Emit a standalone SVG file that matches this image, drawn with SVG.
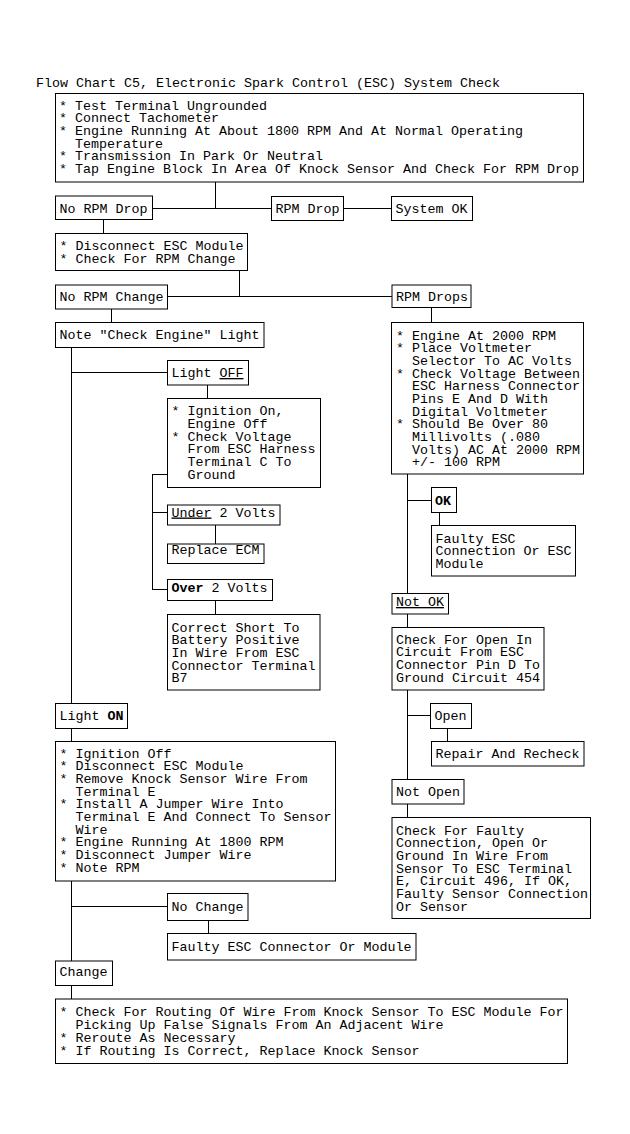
<svg xmlns="http://www.w3.org/2000/svg" width="630" height="1134" viewBox="0 0 630 1134">
<style>
rect{fill:#fff;stroke:#000;stroke-width:1}
line,polyline{stroke:#000;stroke-width:1;fill:none}
text{font-family:"Liberation Mono","DejaVu Sans Mono",monospace;font-size:13.33px;fill:#000}
.b{font-weight:bold}
.u{text-decoration:underline}
</style>
<rect x="0" y="0" width="630" height="1134" style="stroke:none;fill:#fff"/>
<text x="36" y="86.5">Flow Chart C5, Electronic Spark Control (ESC) System Check</text>
<g id="connectors" shape-rendering="crispEdges">
<line x1="215.5" y1="182" x2="215.5" y2="208.5"/>
<line x1="152.5" y1="208.5" x2="271.5" y2="208.5"/>
<line x1="343.5" y1="208.5" x2="391.5" y2="208.5"/>
<line x1="103.5" y1="220" x2="103.5" y2="233.5"/>
<line x1="239.5" y1="270.5" x2="239.5" y2="296.5"/>
<line x1="167.5" y1="296.5" x2="392" y2="296.5"/>
<line x1="111.5" y1="309" x2="111.5" y2="322.5"/>
<line x1="431.5" y1="307.5" x2="431.5" y2="322.5"/>
<line x1="71.5" y1="347.5" x2="71.5" y2="703.5"/>
<line x1="71.5" y1="372.5" x2="167.5" y2="372.5"/>
<line x1="207.5" y1="385" x2="207.5" y2="398.5"/>
<polyline points="167.5,474.5 152.5,474.5 152.5,589.5 167.5,589.5"/>
<line x1="152.5" y1="512.5" x2="167.5" y2="512.5"/>
<line x1="215.5" y1="525" x2="215.5" y2="544"/>
<line x1="215.5" y1="600.5" x2="215.5" y2="614.5"/>
<line x1="71.5" y1="728.5" x2="71.5" y2="741.5"/>
<line x1="71.5" y1="881" x2="71.5" y2="961"/>
<line x1="71.5" y1="906.5" x2="167.5" y2="906.5"/>
<line x1="208.5" y1="920.5" x2="208.5" y2="933.5"/>
<line x1="71.5" y1="985.5" x2="71.5" y2="999"/>
<line x1="407.5" y1="474" x2="407.5" y2="593.5"/>
<line x1="407.5" y1="500.5" x2="431.5" y2="500.5"/>
<line x1="439.5" y1="512.5" x2="439.5" y2="525.5"/>
<line x1="407.5" y1="614" x2="407.5" y2="627.5"/>
<line x1="407.5" y1="690" x2="407.5" y2="779.5"/>
<line x1="407.5" y1="715.5" x2="430.5" y2="715.5"/>
<line x1="447.5" y1="728.5" x2="447.5" y2="741.5"/>
<line x1="407.5" y1="804" x2="407.5" y2="817.5"/>
</g>
<g id="n-start">
<rect x="55.5" y="93.5" width="528" height="88.5"/>
<text y="109.5"><tspan x="59">* Test Terminal Ungrounded</tspan><tspan x="59" dy="12.67">* Connect Tachometer</tspan><tspan x="59" dy="12.67">* Engine Running At About 1800 RPM And At Normal Operating</tspan><tspan x="75" dy="12.67">Temperature</tspan><tspan x="59" dy="12.67">* Transmission In Park Or Neutral</tspan><tspan x="59" dy="12.67">* Tap Engine Block In Area Of Knock Sensor And Check For RPM Drop</tspan></text>
</g>
<g id="n-no-rpm-drop">
<rect x="55.5" y="196" width="97" height="23.5"/>
<text x="59.5" y="212.5">No RPM Drop</text>
</g>
<g id="n-rpm-drop">
<rect x="271.5" y="196.5" width="72" height="24"/>
<text x="275.5" y="213">RPM Drop</text>
</g>
<g id="n-system-ok">
<rect x="391.5" y="196.5" width="81" height="24"/>
<text x="395.5" y="213">System OK</text>
</g>
<g id="n-disconnect">
<rect x="55.5" y="233.5" width="192" height="37"/>
<text y="250"><tspan x="59.5">* Disconnect ESC Module</tspan><tspan x="59.5" dy="12.67">* Check For RPM Change</tspan></text>
</g>
<g id="n-no-rpm-change">
<rect x="55.5" y="285" width="112" height="24"/>
<text x="59.5" y="301">No RPM Change</text>
</g>
<g id="n-rpm-drops">
<rect x="392" y="285" width="79" height="22.5"/>
<text x="396" y="300.5">RPM Drops</text>
</g>
<g id="n-note">
<rect x="55.5" y="322.5" width="208.5" height="25"/>
<text x="59.5" y="339">Note "Check Engine" Light</text>
</g>
<g id="n-engine-2000">
<rect x="391.5" y="322.5" width="192" height="151.5"/>
<text y="339.5"><tspan x="396">* Engine At 2000 RPM</tspan><tspan x="396" dy="12.67">* Place Voltmeter</tspan><tspan x="412" dy="12.67">Selector To AC Volts</tspan><tspan x="396" dy="12.67">* Check Voltage Between</tspan><tspan x="412" dy="12.67">ESC Harness Connector</tspan><tspan x="412" dy="12.67">Pins E And D With</tspan><tspan x="412" dy="12.67">Digital Voltmeter</tspan><tspan x="396" dy="12.67">* Should Be Over 80</tspan><tspan x="412" dy="12.67">Millivolts (.080</tspan><tspan x="412" dy="12.67">Volts) AC At 2000 RPM</tspan><tspan x="412" dy="12.67">+/- 100 RPM</tspan></text>
</g>
<g id="n-light-off">
<rect x="167.5" y="360.5" width="81" height="24.5"/>
<text x="171.5" y="377">Light <tspan class="u">OFF</tspan></text>
</g>
<g id="n-ignition-on">
<rect x="167.5" y="398.5" width="153" height="89"/>
<text y="415.2"><tspan x="171.5">* Ignition On,</tspan><tspan x="187.5" dy="12.67">Engine Off</tspan><tspan x="171.5" dy="12.67">* Check Voltage</tspan><tspan x="187.5" dy="12.67">From ESC Harness</tspan><tspan x="187.5" dy="12.67">Terminal C To</tspan><tspan x="187.5" dy="12.67">Ground</tspan></text>
</g>
<g id="n-under-2v">
<rect x="167.5" y="505" width="112.5" height="20"/>
<text x="171.5" y="516.5"><tspan class="u">Under</tspan> 2 Volts</text>
</g>
<g id="n-replace-ecm">
<rect x="167.5" y="544" width="96.5" height="19.5"/>
<text x="171.5" y="553.5">Replace ECM</text>
</g>
<g id="n-over-2v">
<rect x="167.5" y="579.5" width="105" height="21"/>
<text x="171.5" y="592"><tspan class="b">Over</tspan> 2 Volts</text>
</g>
<g id="n-correct-short">
<rect x="167.5" y="614.5" width="152.5" height="75.5"/>
<text y="631.7"><tspan x="171.5">Correct Short To</tspan><tspan x="171.5" dy="12.67">Battery Positive</tspan><tspan x="171.5" dy="12.67">In Wire From ESC</tspan><tspan x="171.5" dy="12.67">Connector Terminal</tspan><tspan x="171.5" dy="12.67">B7</tspan></text>
</g>
<g id="n-ok">
<rect x="431.5" y="487.5" width="25" height="25"/>
<text x="435" y="504.5" class="b">OK</text>
</g>
<g id="n-faulty-esc-connection">
<rect x="431.5" y="525.5" width="144" height="50.5"/>
<text y="542.8"><tspan x="435.5">Faulty ESC</tspan><tspan x="435.5" dy="12.67">Connection Or ESC</tspan><tspan x="435.5" dy="12.67">Module</tspan></text>
</g>
<g id="n-not-ok">
<rect x="392" y="593.5" width="56.5" height="20.5"/>
<text x="396" y="606" class="u">Not OK</text>
</g>
<g id="n-check-open">
<rect x="392" y="627.5" width="152" height="62.5"/>
<text y="643.8"><tspan x="396">Check For Open In</tspan><tspan x="396" dy="12.67">Circuit From ESC</tspan><tspan x="396" dy="12.67">Connector Pin D To</tspan><tspan x="396" dy="12.67">Ground Circuit 454</tspan></text>
</g>
<g id="n-open">
<rect x="430.5" y="703.5" width="41" height="25"/>
<text x="434.5" y="719.5">Open</text>
</g>
<g id="n-repair">
<rect x="431.5" y="741.5" width="152.5" height="24.5"/>
<text x="435.5" y="757.8">Repair And Recheck</text>
</g>
<g id="n-not-open">
<rect x="392" y="779.5" width="72" height="24.5"/>
<text x="396" y="796">Not Open</text>
</g>
<g id="n-check-faulty">
<rect x="392" y="817.5" width="198.5" height="101"/>
<text y="834.5"><tspan x="396">Check For Faulty</tspan><tspan x="396" dy="12.67">Connection, Open Or</tspan><tspan x="396" dy="12.67">Ground In Wire From</tspan><tspan x="396" dy="12.67">Sensor To ESC Terminal</tspan><tspan x="396" dy="12.67">E, Circuit 496, If OK,</tspan><tspan x="396" dy="12.67">Faulty Sensor Connection</tspan><tspan x="396" dy="12.67">Or Sensor</tspan></text>
</g>
<g id="n-light-on">
<rect x="55.5" y="703.5" width="72" height="25"/>
<text x="59.5" y="719.5">Light <tspan class="b">ON</tspan></text>
</g>
<g id="n-ignition-off">
<rect x="55.5" y="741.5" width="280" height="139.5"/>
<text y="757.8"><tspan x="59.5">* Ignition Off</tspan><tspan x="59.5" dy="12.67">* Disconnect ESC Module</tspan><tspan x="59.5" dy="12.67">* Remove Knock Sensor Wire From</tspan><tspan x="75.5" dy="12.67">Terminal E</tspan><tspan x="59.5" dy="12.67">* Install A Jumper Wire Into</tspan><tspan x="75.5" dy="12.67">Terminal E And Connect To Sensor</tspan><tspan x="75.5" dy="12.67">Wire</tspan><tspan x="59.5" dy="12.67">* Engine Running At 1800 RPM</tspan><tspan x="59.5" dy="12.67">* Disconnect Jumper Wire</tspan><tspan x="59.5" dy="12.67">* Note RPM</tspan></text>
</g>
<g id="n-no-change">
<rect x="167.5" y="893.5" width="80.5" height="27"/>
<text x="171.5" y="911">No Change</text>
</g>
<g id="n-faulty-esc-connector">
<rect x="167.5" y="933.5" width="248.5" height="26.5"/>
<text x="171.5" y="950.5">Faulty ESC Connector Or Module</text>
</g>
<g id="n-change">
<rect x="55.5" y="961" width="57" height="24.5"/>
<text x="59.5" y="975.7">Change</text>
</g>
<g id="n-routing">
<rect x="55.5" y="999" width="512" height="64.5"/>
<text y="1016.3"><tspan x="59.5">* Check For Routing Of Wire From Knock Sensor To ESC Module For</tspan><tspan x="75.5" dy="12.9">Picking Up False Signals From An Adjacent Wire</tspan><tspan x="59.5" dy="12.9">* Reroute As Necessary</tspan><tspan x="59.5" dy="12.9">* If Routing Is Correct, Replace Knock Sensor</tspan></text>
</g>
</svg>
